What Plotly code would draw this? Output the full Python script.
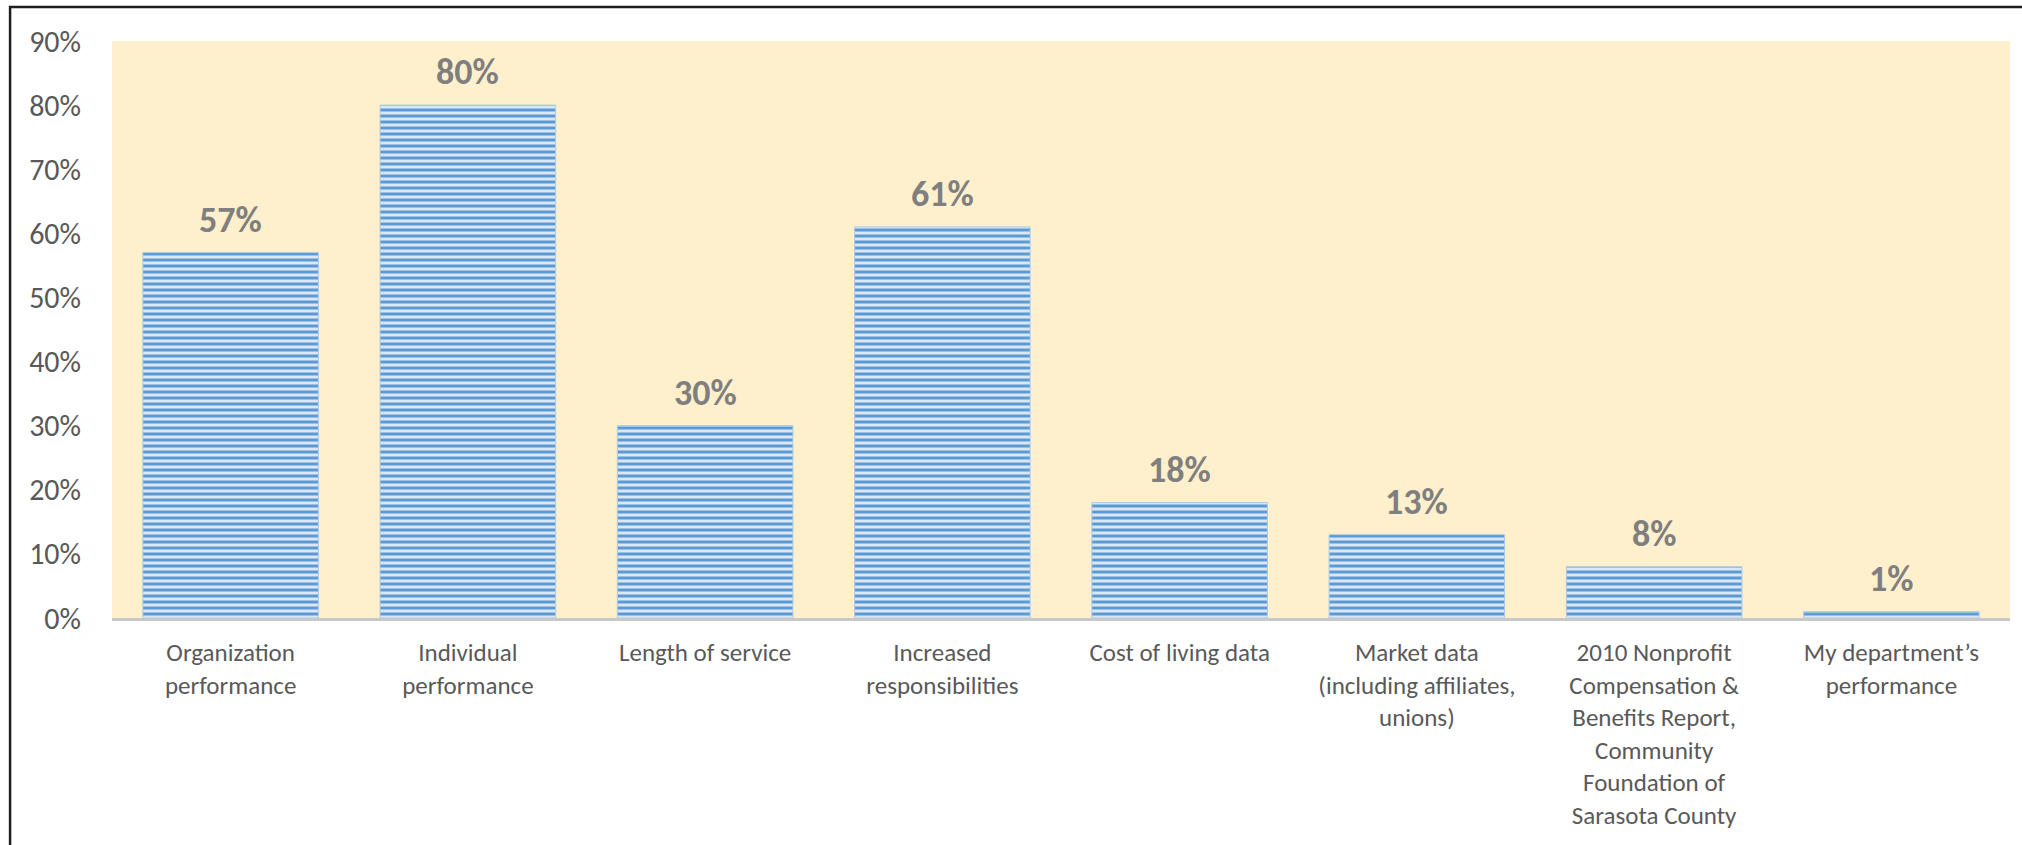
import plotly.graph_objects as go

# Survey: factors used to determine salary increases
categories = [
    "Organization<br>performance",
    "Individual<br>performance",
    "Length of service",
    "Increased<br>responsibilities",
    "Cost of living data",
    "Market data<br>(including affiliates,<br>unions)",
    "2010 Nonprofit<br>Compensation &<br>Benefits Report,<br>Community<br>Foundation of<br>Sarasota County",
    "My department\u2019s<br>performance",
]
values = [57, 80, 30, 61, 18, 13, 8, 1]
y_ticks = [0, 10, 20, 30, 40, 50, 60, 70, 80, 90]
y_tick_labels = [f"{t}%" for t in y_ticks]

FONT = "Carlito, Calibri, Lato, sans-serif"

fig = go.Figure()
fig.add_trace(go.Bar(
    x=categories,
    y=values,
    marker=dict(
        color="#DCE7F3",
        line=dict(width=1, color="#A9CBEA"),
        pattern=dict(shape="-", fgcolor="#5B9BD5", bgcolor="#DCE7F3",
                     size=6, solidity=0.5, fillmode="replace"),
    ),
    hoverinfo="skip",
))

# Value labels above each bar
for c, v in zip(categories, values):
    fig.add_annotation(
        x=c, y=v, text=f"<b>{v}%</b>", showarrow=False,
        yanchor="bottom", yshift=9,
        font=dict(family=FONT, size=36, color="#7F7F7F"),
    )

# Outer chart frame
fig.add_shape(type="rect", xref="paper", yref="paper",
              x0=-0.0537, x1=1.2, y0=-0.6, y1=1.0589,
              line=dict(color="#1E1E1E", width=2.5), fillcolor="rgba(0,0,0,0)",
              layer="above")

fig.update_layout(
    width=2022, height=845,
    margin=dict(l=112, r=12, t=41, b=227),
    paper_bgcolor="white",
    plot_bgcolor="#FFF0CD",
    bargap=0.26,
    showlegend=False,
    font=dict(family=FONT, color="#595959"),
    xaxis=dict(
        showgrid=False, showline=True, linecolor="#C8C8C8", linewidth=3,
        ticks="", tickfont=dict(family=FONT, size=25, color="#595959"),
        ticklabelstandoff=10, tickangle=0, fixedrange=True, automargin=False,
    ),
    yaxis=dict(
        range=[0, 90], tickvals=y_ticks, ticktext=y_tick_labels,
        showgrid=False, zeroline=False, showline=False, ticks="",
        tickfont=dict(family=FONT, size=30, color="#595959"),
        ticklabelstandoff=30, fixedrange=True, automargin=False,
    ),
)

fig.write_html("out.html")
